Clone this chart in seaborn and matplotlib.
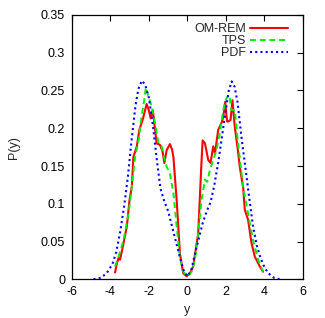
import numpy as np
import pandas as pd
import matplotlib
matplotlib.use("Agg")
import matplotlib.pyplot as plt
import seaborn as sns

# OM-REM curve
rem_x = [-3.76, -3.67, -3.58, -3.50, -3.32, -3.15, -3.01, -2.89, -2.81, -2.63, -2.50,
         -2.33, -2.20, -2.12, -2.02, -1.91, -1.80, -1.60, -1.43, -1.30, -1.20, -1.08,
         -0.91, -0.80, -0.73, -0.56, -0.39, -0.22, -0.04, 0.13, 0.30, 0.56, 0.72, 0.79,
         0.91, 1.08, 1.20, 1.34, 1.43, 1.60, 1.77, 1.86, 1.96, 2.06, 2.12, 2.24, 2.34,
         2.46, 2.60, 2.72, 2.90, 2.98, 3.15, 3.33, 3.50, 3.76, 3.93]
rem_y = [0.009, 0.021, 0.028, 0.026, 0.048, 0.070, 0.105, 0.123, 0.162, 0.176, 0.198,
         0.211, 0.224, 0.232, 0.225, 0.213, 0.224, 0.180, 0.178, 0.170, 0.154, 0.171,
         0.179, 0.172, 0.162, 0.105, 0.034, 0.008, 0.004, 0.008, 0.017, 0.061, 0.150, 0.184,
         0.180, 0.158, 0.154, 0.176, 0.167, 0.198, 0.207, 0.215, 0.235, 0.209, 0.209, 0.211, 0.237,
         0.202, 0.175, 0.149, 0.120, 0.092, 0.079, 0.048, 0.030, 0.017, 0.010]

# TPS curve
tps_x = [-3.76, -3.58, -3.32, -3.06, -2.89, -2.72, -2.54, -2.37, -2.25, -2.16, -2.03,
         -1.86, -1.68, -1.51, -1.34, -1.22, -1.08, -0.91, -0.73, -0.56, -0.39, -0.22,
         0.0, 0.22, 0.39, 0.56, 0.73, 0.91, 1.03, 1.17, 1.34, 1.51, 1.68, 1.86, 2.03,
         2.17, 2.29, 2.46, 2.63, 2.89, 3.15, 3.41, 3.67, 3.93]
tps_y = [0.017, 0.030, 0.052, 0.087, 0.123, 0.162, 0.184, 0.218, 0.237, 0.254, 0.242,
         0.229, 0.207, 0.180, 0.176, 0.162, 0.149, 0.140, 0.114, 0.070, 0.030, 0.010,
         0.004, 0.010, 0.026, 0.061, 0.105, 0.132, 0.129, 0.145, 0.158, 0.171, 0.193, 0.224, 0.240,
         0.244, 0.224, 0.224, 0.180, 0.123, 0.087, 0.052, 0.026, 0.010]

# PDF curve
pdf_x = [-4.88, -4.5, -4.2, -3.9, -3.7, -3.5, -3.3, -3.1, -2.9, -2.7, -2.55, -2.37,
         -2.2, -2.0, -1.8, -1.6, -1.4, -1.2, -1.0, -0.8, -0.6, -0.4, -0.2, 0.0, 0.2,
         0.4, 0.6, 0.8, 1.0, 1.2, 1.4, 1.6, 1.8, 2.0, 2.15, 2.3, 2.45, 2.6, 2.8, 3.0,
         3.2, 3.4, 3.6, 3.8, 4.0, 4.2, 4.5, 4.8]
pdf_y = [0.0, 0.002, 0.008, 0.020, 0.036, 0.062, 0.095, 0.135, 0.185, 0.230, 0.252, 0.263,
         0.258, 0.240, 0.205, 0.160, 0.120, 0.103, 0.090, 0.070, 0.050, 0.030, 0.012, 0.004, 0.012,
         0.035, 0.055, 0.075, 0.090, 0.102, 0.125, 0.155, 0.190, 0.225, 0.250, 0.262, 0.255, 0.235,
         0.190, 0.150, 0.110, 0.072, 0.045, 0.028, 0.016, 0.008, 0.002, 0.0]

x_ticks = [-6, -4, -2, 0, 2, 4, 6]
y_ticks = [0, 0.05, 0.1, 0.15, 0.2, 0.25, 0.3, 0.35]

sns.set_style("white")
plt.rcParams['font.family'] = ['Liberation Sans', 'DejaVu Sans']
fs = 9

fig = plt.figure(figsize=(3.25, 3.18), dpi=100)
ax = fig.add_axes([0.2215, 0.1217, 0.7105, 0.8313])

sns.lineplot(x=rem_x, y=rem_y, ax=ax, color="#ff0000", lw=1.5, label="OM-REM",
             estimator=None, sort=False)
sns.lineplot(x=tps_x, y=tps_y, ax=ax, color="#00ee00", lw=1.4, label="TPS",
             estimator=None, sort=False, linestyle=(0, (3, 2)))
sns.lineplot(x=pdf_x, y=pdf_y, ax=ax, color="#0000ff", lw=1.5, label="PDF",
             estimator=None, sort=False, linestyle=(0, (1, 1.5)))

ax.set_xlim(-6, 6)
ax.set_ylim(0, 0.35)
ax.set_xticks(x_ticks)
ax.set_yticks(y_ticks)
ax.set_xticklabels([f"{t:g}" for t in x_ticks])
ax.set_yticklabels([f"{t:g}" for t in y_ticks])
ax.tick_params(direction="in", length=4, width=0.8, top=True, right=True,
               labelsize=fs, colors="black", pad=5)
for sp in ax.spines.values():
    sp.set_color("black")
    sp.set_linewidth(0.9)

ax.set_xlabel("y", fontsize=fs, labelpad=4)
ax.set_ylabel("P(y)", fontsize=fs, labelpad=15)

ax.legend(loc="upper right", bbox_to_anchor=(0.935, 0.97), frameon=False,
          markerfirst=False, borderpad=0, borderaxespad=0, labelspacing=0.0,
          handlelength=3.0, handletextpad=0.35, fontsize=fs)

fig.savefig("out.png", dpi=100)
